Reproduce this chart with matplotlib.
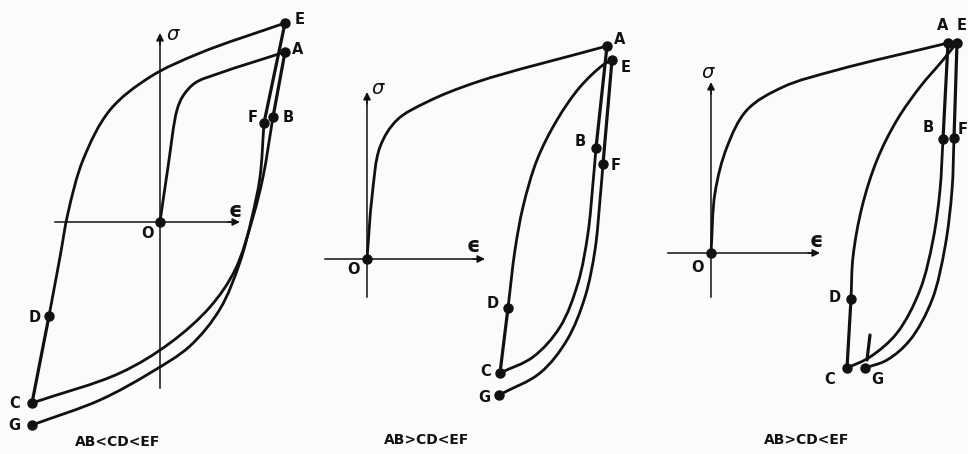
import math
import matplotlib
matplotlib.use("Agg")
import matplotlib.pyplot as plt
from matplotlib.path import Path
from matplotlib.patches import PathPatch

# ---- Panel 1: AB < CD < EF  (strain eps, stress sigma; origin at O) ----
p1_OA = [(0, 0), (8, 55), (17, 112), (23, 126), (35, 139), (60, 149), (125, 170)]
p1_AB = [(125, 170), (113, 105)]
p1_BC = [(113, 105), (103, 45), (93, 5), (75, -48), (50, -85), (10, -121),
         (-40, -151), (-128, -181)]
p1_CD = [(-128, -181), (-111, -94)]
p1_DE = [(-111, -94), (-100, -35), (-92, 9), (-77, 62), (-50, 112), (-10, 145), (40, 169), (125, 199)]
p1_EF = [(125, 199), (104, 99)]
p1_FG = [(104, 99), (100, 45), (92, 5), (80, -40), (60, -87), (30, -124), (-10, -151),
         (-60, -178), (-128, -203)]
p1_pts = {"O": (0, 0), "A": (125, 170), "B": (113, 105), "C": (-128, -181), "D": (-111, -94),
          "E": (125, 199), "F": (104, 99), "G": (-128, -203)}

# ---- Panel 2: AB > CD < EF ----
p2_OA = [(0, 0), (5, 62), (13, 112), (30, 139), (60, 157), (110, 177), (240, 213)]
p2_AB = [(240, 213), (229, 111)]
p2_BC = [(229, 111), (226, 76), (221, 26), (211, -24), (193, -68), (166, -98), (133, -114)]
p2_CD = [(133, -114), (141, -49)]
p2_DE = [(141, -49), (148, 9), (156, 52), (170, 99), (190, 139), (213, 172), (236, 194), (245, 199)]
p2_EF = [(245, 199), (236, 95)]
p2_FG = [(236, 95), (233, 59), (228, 9), (218, -38), (200, -81), (173, -114), (132, -136)]
p2_pts = {"O": (0, 0), "A": (240, 213), "B": (229, 111), "C": (133, -114), "D": (141, -49),
          "E": (245, 199), "F": (236, 95), "G": (132, -136)}

# ---- Panel 3: AB > CD < EF ----
p3_OA = [(0, 0), (4, 60), (16, 106), (36, 143), (72, 166), (126, 183), (237, 210)]
p3_AB = [(237, 210), (232, 114)]
p3_BC = [(232, 114), (229, 63), (222, 13), (209, -37), (186, -80), (159, -104), (136, -115)]
p3_CD = [(136, -115), (140, -46)]
p3_DE = [(140, -46), (142, -4), (151, 46), (166, 93), (186, 133), (209, 166), (232, 193), (244, 208)]
p3_EF = [(246, 210), (243, 115)]
p3_FG = [(243, 115), (241, 63), (234, 6), (221, -47), (199, -87), (176, -107), (154, -115)]
p3_tick = [(159, -82), (156, -107)]
p3_pts = {"O": (0, 0), "A": (237, 210), "B": (232, 114), "C": (136, -115), "D": (140, -46),
          "E": (246, 210), "F": (243, 115), "G": (154, -115)}

captions = ["AB<CD<EF", "AB>CD<EF", "AB>CD<EF"]

W, H = 968, 454
INK = "#111111"


def smooth_path(pts, alpha=0.5):
    """Centripetal Catmull-Rom spline through the points, as cubic Bezier segments."""
    if len(pts) == 2:
        return Path(pts, [Path.MOVETO, Path.LINETO])
    first = (2 * pts[0][0] - pts[1][0], 2 * pts[0][1] - pts[1][1])
    last = (2 * pts[-1][0] - pts[-2][0], 2 * pts[-1][1] - pts[-2][1])
    ext = [first] + list(pts) + [last]
    verts = [pts[0]]
    codes = [Path.MOVETO]

    def d(a, b):
        return max(math.hypot(b[0] - a[0], b[1] - a[1]), 1e-6) ** alpha

    for i in range(1, len(ext) - 2):
        p0, p1, p2, p3 = ext[i - 1], ext[i], ext[i + 1], ext[i + 2]
        d1, d2, d3 = d(p0, p1), d(p1, p2), d(p2, p3)
        c1 = tuple((d1 * d1 * p2[k] - d2 * d2 * p0[k] + (2 * d1 * d1 + 3 * d1 * d2 + d2 * d2) * p1[k])
                   / (3 * d1 * (d1 + d2)) for k in range(2))
        c2 = tuple((d3 * d3 * p1[k] - d2 * d2 * p3[k] + (2 * d3 * d3 + 3 * d3 * d2 + d2 * d2) * p2[k])
                   / (3 * d3 * (d3 + d2)) for k in range(2))
        verts += [c1, c2, p2]
        codes += [Path.CURVE4] * 3
    return Path(verts, codes)


def draw_curve(ax, pts, lw=2.0):
    ax.add_patch(PathPatch(smooth_path(pts), fill=False, edgecolor=INK, lw=lw,
                           capstyle="round", joinstyle="round"))


def draw_axes_arrows(ax, eps_rng, sig_rng):
    ax.plot([0, 0], [sig_rng[0], sig_rng[1] - 6], color=INK, lw=1.1)
    ax.plot([eps_rng[0], eps_rng[1] - 6], [0, 0], color=INK, lw=1.1)
    ax.annotate("", xy=(0, sig_rng[1]), xytext=(0, sig_rng[1] - 12),
                arrowprops=dict(arrowstyle="-|>", color=INK, lw=1.1, mutation_scale=11,
                                shrinkA=0, shrinkB=0))
    ax.annotate("", xy=(eps_rng[1], 0), xytext=(eps_rng[1] - 12, 0),
                arrowprops=dict(arrowstyle="-|>", color=INK, lw=1.1, mutation_scale=11,
                                shrinkA=0, shrinkB=0))


panels = [
    dict(origin=(160, 222), eps=(-105, 80), sig=(-166, 189),
         curves=[p1_OA, p1_BC, p1_DE, p1_FG], lines=[p1_AB, p1_CD, p1_EF], pts=p1_pts,
         labels={"O": (-13, -12), "A": (138, 172), "B": (128, 104), "C": (-145, -181),
                 "D": (-125, -96), "E": (140, 202), "F": (93, 104), "G": (-146, -203)},
         sigma=(13, 187), epsl=(75, 11), cap=(-42, -220)),
    dict(origin=(367, 259), eps=(-42, 118), sig=(-38, 167),
         curves=[p2_OA, p2_BC, p2_DE, p2_FG], lines=[p2_AB, p2_CD, p2_EF], pts=p2_pts,
         labels={"O": (-13, -11), "A": (253, 219), "B": (213, 117), "C": (119, -113),
                 "D": (126, -45), "E": (259, 192), "F": (249, 93), "G": (117, -138)},
         sigma=(11, 171), epsl=(106, 13), cap=(60, -181)),
    dict(origin=(711, 253), eps=(-43, 109), sig=(-44, 171),
         curves=[p3_OA, p3_BC, p3_DE, p3_FG], lines=[p3_AB, p3_CD, p3_EF, p3_tick], pts=p3_pts,
         labels={"O": (-13, -15), "A": (232, 227), "B": (217, 125), "C": (119, -127),
                 "D": (124, -45), "E": (251, 227), "F": (252, 123), "G": (166, -127)},
         sigma=(-3, 181), epsl=(105, 12), cap=(96, -187)),
]

fig = plt.figure(figsize=(W / 100, H / 100), dpi=100)
fig.patch.set_facecolor("#fbfbfb")

lbl_font = dict(fontsize=10.5, fontweight="bold", color=INK, family="DejaVu Sans",
                ha="center", va="center")

for i, pnl in enumerate(panels):
    ox, oy = pnl["origin"]
    ax = fig.add_axes([0, 0, 1, 1])
    ax.set_xlim(-ox, W - ox)
    ax.set_ylim(oy - H, oy)
    ax.axis("off")
    ax.patch.set_alpha(0)

    draw_axes_arrows(ax, pnl["eps"], pnl["sig"])
    for c in pnl["curves"]:
        draw_curve(ax, c)
    for seg in pnl["lines"]:
        draw_curve(ax, seg, lw=2.3)

    xs = [v[0] for v in pnl["pts"].values()]
    ys = [v[1] for v in pnl["pts"].values()]
    ax.plot(xs, ys, "o", color=INK, ms=6.5, zorder=5)

    for name, (lx, ly) in pnl["labels"].items():
        ax.text(lx, ly, name, **lbl_font)
    ax.text(*pnl["sigma"], "σ", fontsize=14, color=INK, family="DejaVu Sans",
            ha="center", va="center", style="italic")
    ax.text(*pnl["epsl"], "ϵ", fontsize=15, color=INK, family="DejaVu Sans",
            ha="center", va="center", fontweight="bold")
    ax.text(*pnl["cap"], captions[i], fontsize=10, fontweight="bold", color=INK,
            family="DejaVu Sans", ha="center", va="center")

fig.savefig("out.png", dpi=100, facecolor=fig.get_facecolor())
